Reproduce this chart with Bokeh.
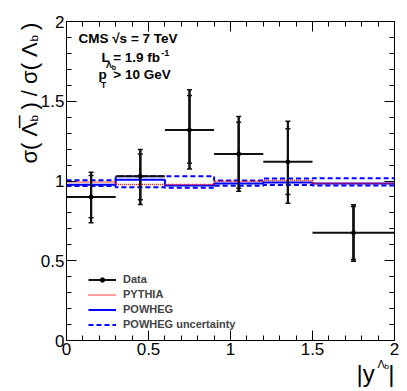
import math
from bokeh.plotting import figure
from bokeh.models import (Range1d, LinearAxis, Label, Whisker, TeeHead, Legend, LegendItem,
                          ColumnDataSource, FixedTicker)
from bokeh.embed import file_html
from bokeh.resources import INLINE

# ---------------- data ----------------
bin_edges = [0.0, 0.3, 0.6, 0.9, 1.2, 1.5, 2.0]
ratio = [0.90, 1.03, 1.32, 1.17, 1.12, 0.675]
stat_lo = [0.769, 0.882, 1.111, 0.955, 0.915, 0.508]
stat_hi = [1.034, 1.170, 1.536, 1.369, 1.327, 0.840]
tot_lo = [0.738, 0.853, 1.076, 0.935, 0.861, 0.497]
tot_hi = [1.055, 1.197, 1.572, 1.404, 1.375, 0.851]
pythia = [0.993, 0.978, 0.978, 0.999, 1.003, 0.985]
powheg = [0.977, 1.008, 0.972, 0.984, 0.990, 0.984]
powheg_up = [1.004, 1.030, 1.030, 1.003, 1.016, 1.018]
powheg_dn = [0.968, 0.961, 0.957, 0.970, 0.975, 0.972]

major_ticks = [0.0, 0.5, 1.0, 1.5, 2.0]
tick_labels = ["0", "0.5", "1", "1.5", "2"]
minor_ticks = [i / 10 for i in range(21)]

FONT = "Liberation Sans"
NB = "\u00a0"

# ---------------- figure ----------------
W, H = 407, 391
X0, X1, Y0, Y1 = 65, 394, 340, 21   # frame edges in canvas pixels
p = figure(width=W, height=H, x_range=Range1d(0, 2), y_range=Range1d(0, 2),
           output_backend="svg", toolbar_location=None,
           min_border_left=X0, min_border_right=W - X1, min_border_top=Y1,
           min_border_bottom=H - Y0)
p.grid.visible = False
p.outline_line_color = "black"
p.outline_line_width = 1
p.background_fill_color = "white"
p.border_fill_color = "white"

overrides = {v: s for v, s in zip(major_ticks, tick_labels)}

def style_axis(ax, labels=True):
    ax.ticker = FixedTicker(ticks=major_ticks, minor_ticks=minor_ticks)
    ax.major_tick_in = 10
    ax.major_tick_out = 0
    ax.minor_tick_in = 5
    ax.minor_tick_out = 0
    ax.axis_line_color = "black"
    ax.major_tick_line_color = "black"
    ax.minor_tick_line_color = "black"
    if labels:
        ax.major_label_overrides = overrides
        ax.major_label_text_font = FONT
        ax.major_label_text_font_size = "17px"
        ax.major_label_text_color = "black"
        ax.major_label_standoff = 2
    else:
        ax.major_label_overrides = {v: "" for v in major_ticks}
        ax.major_label_standoff = 0
        ax.major_label_text_font_size = "1px"

style_axis(p.xaxis[0])
style_axis(p.yaxis[0])
top_ax = LinearAxis()
right_ax = LinearAxis()
style_axis(top_ax, labels=False)
style_axis(right_ax, labels=False)
p.add_layout(top_ax, "above")
p.add_layout(right_ax, "right")

# ---------------- histograms ----------------
def step(vals):
    xs, ys = [], []
    for i, v in enumerate(vals):
        xs += [bin_edges[i], bin_edges[i + 1]]
        ys += [v, v]
    return xs, ys

xs, ys = step(powheg_up)
r_up = p.line(xs, ys, line_color="#0000ff", line_width=2, line_dash="5 3")
xs, ys = step(powheg_dn)
p.line(xs, ys, line_color="#0000ff", line_width=2, line_dash="5 3")
xs, ys = step(powheg)
r_pow = p.line(xs, ys, line_color="#0000ff", line_width=2)
xs, ys = step(pythia)
r_py = p.line(xs, ys, line_color="#ff0000", line_width=1.5, line_dash="1 1")

# ---------------- data points ----------------
centers = [(a + b) / 2 for a, b in zip(bin_edges[:-1], bin_edges[1:])]
src = ColumnDataSource(dict(x=centers, x0=bin_edges[:-1], x1=bin_edges[1:], y=ratio,
                            slo=stat_lo, shi=stat_hi, tlo=tot_lo, thi=tot_hi))
r_h = p.segment(x0="x0", y0="y", x1="x1", y1="y", source=src, line_color="#111111", line_width=2)
p.segment(x0="x", y0="tlo", x1="x", y1="thi", source=src, line_color="#111111", line_width=2)
for lo, hi in (("slo", "shi"), ("tlo", "thi")):
    w = Whisker(base="x", lower=lo, upper=hi, source=src, dimension="height",
                line_color="#111111", line_width=2,
                upper_head=TeeHead(size=5, line_color="#111111", line_width=1.5),
                lower_head=TeeHead(size=5, line_color="#111111", line_width=1.5))
    p.add_layout(w)
r_pt = p.scatter(x="x", y="y", source=src, size=4, color="black")

# ---------------- legend ----------------
legend = Legend(items=[LegendItem(label="Data", renderers=[r_h, r_pt]),
                       LegendItem(label="PYTHIA", renderers=[r_py]),
                       LegendItem(label="POWHEG", renderers=[r_pow]),
                       LegendItem(label="POWHEG uncertainty", renderers=[r_up])],
                location=(22, 10), border_line_color=None, background_fill_alpha=0,
                label_text_font=FONT, label_text_font_style="bold", label_text_font_size="11px",
                glyph_width=28, glyph_height=11, label_height=11, spacing=3,
                padding=0, margin=0, label_standoff=7)
p.add_layout(legend)

# ---------------- annotation text ----------------
def dx(px):
    return (px - X0) / (X1 - X0) * 2.0

def dy(py):
    return (Y0 - py) / (Y0 - Y1) * 2.0

SHIFT = 0.36   # baseline correction (fraction of font size)

def lab(text, px, py, size, bold=True, angle=0.0, place="center"):
    if angle == 0.0:
        py = py - SHIFT * size
    lbl = Label(x=dx(px), y=dy(py), text=text, text_font=FONT,
                text_font_size=f"{size}px",
                text_font_style="bold" if bold else "normal",
                text_baseline="alphabetic", text_align="left",
                text_color="black", angle=angle)
    p.add_layout(lbl, place)

lab("CMS √s = 7 TeV", 77, 43, 13.5)
lab("L = 1.9 fb", 100, 62, 13.5)
lab("-1", 160, 56, 9)
lab("p", 97, 79, 13.5)
lab("T", 99.5, 88, 8.5)
lab("Λ", 104.5, 68, 9)
lab("b", 110.5, 70, 7)
lab("> 10 GeV", 112, 79, 13.5)

# x axis title |y^(Λb)| (outside the frame -> side panels)
lab("|y" + NB * 2 + "|", 356, 382, 24, bold=False, place="below")
lab("Λ", 377, 367, 11, bold=False, place="above")
lab("b", 384, 369, 8, bold=False, place="right")

# y axis title σ( Λb-bar ) / σ( Λb ), rotated
rot = math.pi / 2
ytitle = "σ(" + NB + "Λ\u0305" + NB * 2 + ")" + NB + "/" + NB + "σ(" + NB + "Λ" + NB * 2 + ")"
lab(ytitle, 27.5, 163, 22, bold=False, angle=rot, place="left")
lab("b" + NB * 23 + "b", 32.5, 121, 11.5, bold=False, angle=rot, place="left")

open("out.html", "w").write(file_html(p, INLINE))
